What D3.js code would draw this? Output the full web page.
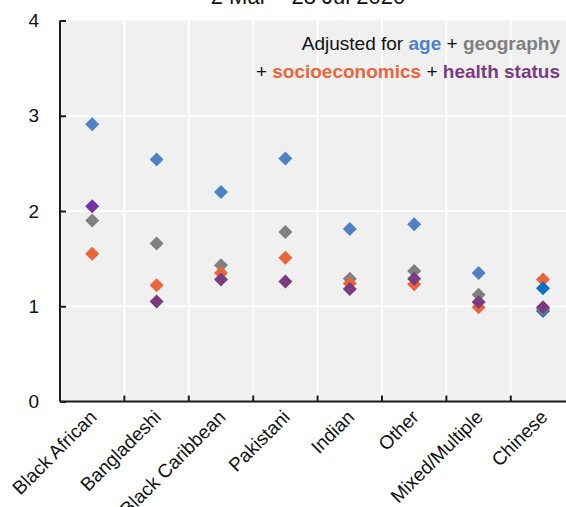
<!DOCTYPE html>
<html>
<head>
<meta charset="utf-8">
<script src="https://cdn.jsdelivr.net/npm/d3@7"></script>
<style>
  html, body { margin: 0; padding: 0; background: #fff; }
  svg { display: block; }
  text { font-family: "Liberation Sans", Arial, sans-serif; }
</style>
</head>
<body>
<svg id="chart" width="566" height="507"></svg>
<script>
// Ethnic groups along the x axis
const categories = ["Black African", "Bangladeshi", "Black Caribbean", "Pakistani",
                    "Indian", "Other", "Mixed/Multiple", "Chinese"];

// Hazard ratios by level of adjustment
const ageValues       = [2.91, 2.54, 2.20, 2.55, 1.81, 1.86, 1.35, 0.95];
const geographyValues = [1.90, 1.66, 1.43, 1.78, 1.29, 1.37, 1.12, 0.97];
const socioValues     = [1.55, 1.22, 1.35, 1.51, 1.24, 1.23, 0.99, 1.28];
const healthValues    = [2.05, 1.05, 1.28, 1.26, 1.18, 1.29, 1.045, 0.99];

// Extra highlighted point
const highlightCategories = ["Chinese"];
const highlightValues     = [1.19];

const yTicks = [0, 1, 2, 3, 4];
const titleText = "2 Mar \u2013 28 Jul 2020";

const colors = {
  age: "#4f81c4",
  geography: "#808080",
  socio: "#e8663a",
  health: "#7b3b80",
  healthAlt: "#7331a5",
  dark: "#0f6fc4"
};

const svg = d3.select("#chart");
const plotLeft = 60, plotTop = 20.5, plotBottom = 401.5, plotRight = 575.2;

const x = d3.scaleBand().domain(categories).range([plotLeft, plotRight]).padding(0);
const y = d3.scaleLinear().domain([0, 4]).range([plotBottom, plotTop]);

// plot background
svg.append("rect")
  .attr("x", plotLeft).attr("y", plotTop)
  .attr("width", plotRight - plotLeft).attr("height", plotBottom - plotTop)
  .attr("fill", "#f0f0f0");

// gridlines
svg.append("g").selectAll("line").data([1, 2, 3]).join("line")
  .attr("x1", plotLeft).attr("x2", plotRight)
  .attr("y1", d => y(d)).attr("y2", d => y(d))
  .attr("stroke", "#fff").attr("stroke-width", 2);
svg.append("g").selectAll("line").data(categories.slice(1)).join("line")
  .attr("x1", d => x(d)).attr("x2", d => x(d))
  .attr("y1", plotTop).attr("y2", plotBottom)
  .attr("stroke", "#fff").attr("stroke-width", 2);

// y axis
const yAxis = svg.append("g")
  .attr("transform", `translate(${plotLeft},0)`)
  .call(d3.axisLeft(y).tickValues(yTicks).tickSize(-6).tickPadding(21).tickFormat(d3.format("d")));
yAxis.select(".domain").attr("stroke", "#1a1a1a").attr("stroke-width", 2)
  .attr("d", `M0,${plotTop}V${plotBottom}`);
yAxis.selectAll(".tick line").attr("stroke", "#1a1a1a").attr("stroke-width", 2);
yAxis.selectAll(".tick text").attr("font-size", 19).attr("fill", "#111")
  .attr("font-family", "Liberation Sans, Arial, sans-serif");

// x axis with boundary ticks
const xAxis = svg.append("g").attr("transform", `translate(0,${plotBottom})`);
xAxis.append("line").attr("x1", plotLeft).attr("x2", plotRight)
  .attr("stroke", "#1a1a1a").attr("stroke-width", 2);
xAxis.selectAll("line.tk").data(categories.slice(1)).join("line")
  .attr("class", "tk")
  .attr("x1", d => x(d)).attr("x2", d => x(d))
  .attr("y1", 0).attr("y2", -6)
  .attr("stroke", "#1a1a1a").attr("stroke-width", 2);
svg.append("g").selectAll("text").data(categories).join("text")
  .attr("transform", d => `translate(${x(d) + x.bandwidth() / 2 + 1},${plotBottom + 12}) rotate(-45)`)
  .attr("text-anchor", "end")
  .attr("dy", "0.35em")
  .attr("font-size", 19)
  .attr("fill", "#111")
  .text(d => d);

// markers
const diamond = d3.symbol(d3.symbolSquare, 98);
const cx = c => x(c) + x.bandwidth() / 2;
function drawSeries(values, color, override) {
  svg.append("g").selectAll("path").data(categories.map((c, i) => ({ c, v: values[i] })))
    .join("path")
    .attr("d", diamond)
    .attr("transform", d => `translate(${cx(d.c)},${y(d.v)}) rotate(45)`)
    .attr("fill", d => (override && override[d.c]) || color);
}
drawSeries(ageValues, colors.age, { "Chinese": colors.dark });
drawSeries(geographyValues, colors.geography);
drawSeries(socioValues, colors.socio);
drawSeries(healthValues, colors.health, { "Black African": colors.healthAlt });

svg.append("g").selectAll("path")
  .data(highlightCategories.map((c, i) => ({ c, v: highlightValues[i] })))
  .join("path")
  .attr("d", diamond)
  .attr("transform", d => `translate(${cx(d.c)},${y(d.v)}) rotate(45)`)
  .attr("fill", colors.dark);

// title
svg.append("text")
  .attr("x", 308).attr("y", 4)
  .attr("text-anchor", "middle")
  .attr("font-size", 22)
  .attr("fill", "#111")
  .text(titleText);

// legend text
const legendLines = [
  [["Adjusted for ", "#111", "normal"], ["age", colors.age, "bold"], [" + ", "#111", "normal"], ["geography", colors.geography, "bold"]],
  [["+ ", "#111", "normal"], ["socioeconomics", colors.socio, "bold"], [" + ", "#111", "normal"], ["health status", colors.health, "bold"]]
];
legendLines.forEach((parts, i) => {
  const t = svg.append("text")
    .attr("x", 560).attr("y", 50 + i * 28)
    .attr("text-anchor", "end")
    .attr("font-size", 19)
    .attr("xml:space", "preserve");
  parts.forEach(([s, c, w]) => {
    t.append("tspan").attr("fill", c).attr("font-weight", w).text(s);
  });
});
</script>
</body>
</html>
